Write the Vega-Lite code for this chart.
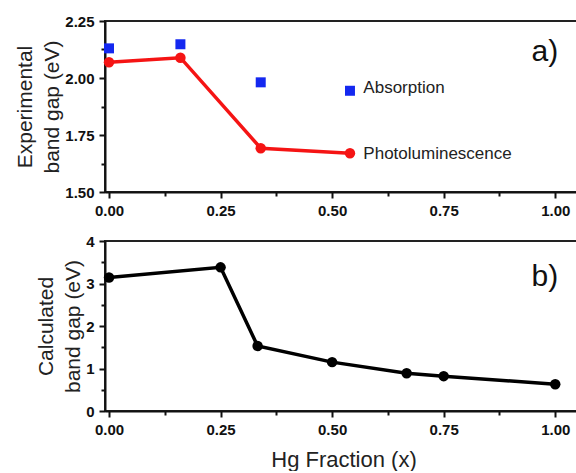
{
  "$schema": "https://vega.github.io/schema/vega-lite/v6.json",
  "padding": {"left": 13, "top": 13, "right": 0, "bottom": 0},
  "background": "white",
  "spacing": 14,
  "config": {
    "view": {"stroke": "#222", "strokeWidth": 2},
    "font": "Liberation Sans",
    "axis": {
      "grid": false,
      "domainColor": "#111",
      "domainWidth": 2,
      "tickColor": "#111",
      "tickWidth": 2,
      "tickSize": 6,
      "labelFont": "Liberation Sans",
      "labelFontSize": 15,
      "labelFontWeight": "bold",
      "labelColor": "#111",
      "labelPadding": 5,
      "labelOverlap": false,
      "titleFont": "Liberation Sans",
      "titleFontWeight": "normal",
      "titleFontSize": 21,
      "titleColor": "#222",
      "titleLineHeight": 27
    }
  },
  "datasets": {
    "absorption": [
      {"x": 0.0, "gap": 2.13},
      {"x": 0.16, "gap": 2.148},
      {"x": 0.34, "gap": 1.981},
      {"x": 0.54, "gap": 1.944}
    ],
    "pl": [
      {"x": 0.0, "gap": 2.069},
      {"x": 0.16, "gap": 2.089},
      {"x": 0.34, "gap": 1.692},
      {"x": 0.54, "gap": 1.67}
    ],
    "toplabels": [
      {"x": 0.57, "gap": 1.956, "label": "Absorption"},
      {"x": 0.57, "gap": 1.667, "label": "Photoluminescence"}
    ],
    "toppanel": [{"x": 0.977, "gap": 2.115, "label": "a)"}],
    "calc": [
      {"x": 0.0, "gap": 3.14},
      {"x": 0.25, "gap": 3.38},
      {"x": 0.333, "gap": 1.53},
      {"x": 0.5, "gap": 1.15},
      {"x": 0.667, "gap": 0.89},
      {"x": 0.75, "gap": 0.82},
      {"x": 1.0, "gap": 0.63}
    ],
    "bottompanel": [{"x": 0.977, "gap": 3.15, "label": "b)"}]
  },
  "vconcat": [
    {
      "width": 477,
      "height": 171,
      "encoding": {
        "x": {
          "field": "x", "type": "quantitative",
          "scale": {"domain": [-0.009, 1.06], "nice": false, "zero": false},
          "axis": {
            "title": null,
            "values": [0, 0.125, 0.25, 0.375, 0.5, 0.625, 0.75, 0.875, 1.0],
            "labelExpr": "abs(datum.value*4-round(datum.value*4))<0.001 ? format(datum.value,'.2f') : ''",
            "tickSize": {"condition": {"test": "abs(datum.value*4-round(datum.value*4))<0.001", "value": 6}, "value": 4}
          }
        },
        "y": {
          "field": "gap", "type": "quantitative",
          "scale": {"domain": [1.5, 2.25], "nice": false, "zero": false},
          "axis": {
            "title": ["Experimental", "band gap (eV)"],
            "titlePadding": 2,
            "values": [1.5, 1.625, 1.75, 1.875, 2.0, 2.125, 2.25],
            "labelExpr": "abs(datum.value*4-round(datum.value*4))<0.001 ? format(datum.value,'.2f') : ''",
            "tickSize": {"condition": {"test": "abs(datum.value*4-round(datum.value*4))<0.001", "value": 6}, "value": 4}
          }
        }
      },
      "layer": [
        {
          "data": {"name": "pl"},
          "mark": {"type": "line", "color": "#f51414", "strokeWidth": 3.5, "point": {"filled": true, "color": "#f51414", "size": 110}}
        },
        {
          "data": {"name": "absorption"},
          "mark": {"type": "point", "shape": "square", "filled": true, "color": "#1428f0", "opacity": 1, "size": 100}
        },
        {
          "data": {"name": "toplabels"},
          "mark": {"type": "text", "align": "left", "baseline": "middle", "fontSize": 17, "color": "#222", "font": "Liberation Sans"},
          "encoding": {"text": {"field": "label"}}
        },
        {
          "data": {"name": "toppanel"},
          "mark": {"type": "text", "align": "center", "baseline": "middle", "fontSize": 30, "color": "#111", "font": "Liberation Sans"},
          "encoding": {"text": {"field": "label"}}
        }
      ]
    },
    {
      "width": 477,
      "height": 170,
      "encoding": {
        "x": {
          "field": "x", "type": "quantitative",
          "scale": {"domain": [-0.009, 1.06], "nice": false, "zero": false},
          "axis": {
            "title": "Hg Fraction (x)",
            "titleFontSize": 22,
            "titlePadding": 12,
            "values": [0, 0.125, 0.25, 0.375, 0.5, 0.625, 0.75, 0.875, 1.0],
            "labelExpr": "abs(datum.value*4-round(datum.value*4))<0.001 ? format(datum.value,'.2f') : ''",
            "tickSize": {"condition": {"test": "abs(datum.value*4-round(datum.value*4))<0.001", "value": 6}, "value": 4}
          }
        },
        "y": {
          "field": "gap", "type": "quantitative",
          "scale": {"domain": [0, 4], "nice": false},
          "axis": {
            "title": ["Calculated", "band gap (eV)"],
            "titlePadding": 2,
            "values": [0, 0.5, 1, 1.5, 2, 2.5, 3, 3.5, 4],
            "labelExpr": "abs(datum.value-round(datum.value))<0.001 ? format(datum.value,'d') : ''",
            "tickSize": {"condition": {"test": "abs(datum.value-round(datum.value))<0.001", "value": 6}, "value": 4}
          }
        }
      },
      "layer": [
        {
          "data": {"name": "calc"},
          "mark": {"type": "line", "color": "#000", "strokeWidth": 3.5, "point": {"filled": true, "color": "#000", "size": 110}}
        },
        {
          "data": {"name": "bottompanel"},
          "mark": {"type": "text", "align": "center", "baseline": "middle", "fontSize": 30, "color": "#111", "font": "Liberation Sans"},
          "encoding": {"text": {"field": "label"}}
        }
      ]
    }
  ]
}
